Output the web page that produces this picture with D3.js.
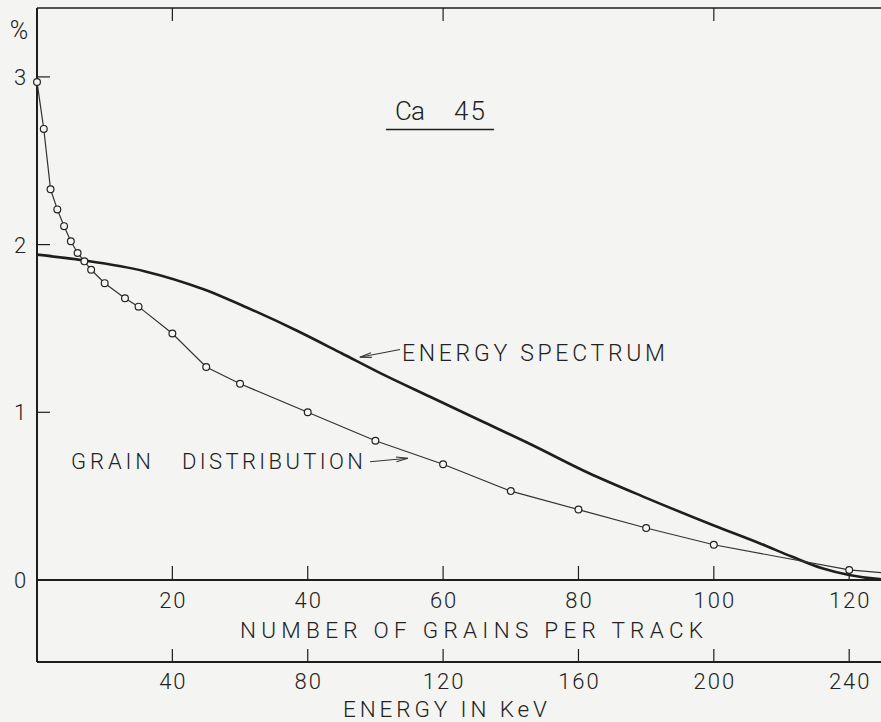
<!DOCTYPE html>
<html>
<head>
<meta charset="utf-8">
<script src="https://cdn.jsdelivr.net/npm/d3@7"></script>
<style>
  html, body { margin: 0; padding: 0; background: #f4f4f2; }
  svg { display: block; }
  text { font-family: Roboto, "DejaVu Sans", sans-serif; font-weight: 300; fill: #222; }
</style>
</head>
<body>
<svg id="chart" width="881" height="722"></svg>
<script>
// Grain distribution (number of grains per track -> %)
const grainCounts  = [0, 1, 2, 3, 4, 5, 6, 7, 8, 10, 13, 15, 20, 25, 30, 40, 50, 60, 70, 80, 90, 100, 120];
const grainPercent = [2.97, 2.69, 2.33, 2.21, 2.11, 2.02, 1.95, 1.90, 1.85, 1.77, 1.68, 1.63, 1.47, 1.27, 1.17, 1.00, 0.83, 0.69, 0.53, 0.42, 0.31, 0.21, 0.06];
// continuation of the grain curve past the last measured point
const grainTailCount   = [126];
const grainTailPercent = [0.04];

// Beta energy spectrum of Ca 45 (keV -> %)
const spectrumEnergy  = [0, 14, 32, 49, 62, 77, 90, 101, 116, 131, 146, 163, 180, 200, 214, 223, 232, 240, 249, 253];
const spectrumPercent = [1.94, 1.905, 1.84, 1.735, 1.625, 1.485, 1.352, 1.238, 1.094, 0.951, 0.808, 0.638, 0.49, 0.325, 0.215, 0.14, 0.07, 0.03, 0.005, 0];

// Axis ticks
const yTicks      = [0, 1, 2, 3];
const grainTicks  = [20, 40, 60, 80, 100, 120];
const topTicks    = [20, 60, 100];
const energyTicks = [40, 80, 120, 160, 200, 240];

const svg = d3.select("#chart");
const W = 881;
const plotLeft = 37, plotTop = 8, zeroY = 580, lowerY = 662;

const xGrain  = d3.scaleLinear().domain([0, 124.7]).range([plotLeft, W]);
const xEnergy = d3.scaleLinear().domain([0, 249.4]).range([plotLeft, W]);
const y       = d3.scaleLinear().domain([0, 3]).range([zeroY, zeroY - 3 * 167.7]);

const ink = "#1e1e1e";

svg.append("defs").append("clipPath").attr("id", "plot")
  .append("rect").attr("x", plotLeft).attr("y", plotTop)
  .attr("width", W - plotLeft).attr("height", zeroY - plotTop + 3);

// frame: left axis, top border, zero line, lower energy axis
svg.append("line").attr("x1", plotLeft).attr("x2", plotLeft).attr("y1", plotTop).attr("y2", lowerY)
  .attr("stroke", ink).attr("stroke-width", 2);
svg.append("line").attr("x1", plotLeft).attr("x2", W).attr("y1", plotTop).attr("y2", plotTop)
  .attr("stroke", ink).attr("stroke-width", 1.6);
svg.append("line").attr("x1", plotLeft).attr("x2", W).attr("y1", zeroY).attr("y2", zeroY)
  .attr("stroke", ink).attr("stroke-width", 2);
svg.append("line").attr("x1", plotLeft).attr("x2", W).attr("y1", lowerY).attr("y2", lowerY)
  .attr("stroke", ink).attr("stroke-width", 2);

// left ticks and labels
svg.selectAll(".ytick").data(yTicks.filter(d => d > 0)).join("line")
  .attr("x1", plotLeft).attr("x2", plotLeft + 13)
  .attr("y1", d => y(d)).attr("y2", d => y(d))
  .attr("stroke", ink).attr("stroke-width", 1.2);
svg.selectAll(".ylab").data(yTicks).join("text")
  .attr("x", 20).attr("y", d => y(d) + 8)
  .attr("text-anchor", "middle").attr("font-size", 22)
  .text(d => d);
svg.append("text").attr("x", 19).attr("y", 39).attr("text-anchor", "middle")
  .attr("font-size", 25).text("%");

// top border ticks
svg.selectAll(".ttick").data(topTicks).join("line")
  .attr("x1", d => xGrain(d)).attr("x2", d => xGrain(d))
  .attr("y1", plotTop).attr("y2", plotTop + 13)
  .attr("stroke", ink).attr("stroke-width", 1.2);

// grains axis (on zero line)
svg.selectAll(".gtick").data(grainTicks).join("line")
  .attr("x1", d => xGrain(d)).attr("x2", d => xGrain(d))
  .attr("y1", zeroY).attr("y2", zeroY - 14)
  .attr("stroke", ink).attr("stroke-width", 1.2);
svg.selectAll(".glab").data(grainTicks).join("text")
  .attr("x", d => xGrain(d) + 1).attr("y", 608)
  .attr("text-anchor", "middle").attr("font-size", 22)
  .attr("letter-spacing", 2)
  .text(d => d);

// energy axis
svg.selectAll(".etick").data(energyTicks).join("line")
  .attr("x1", d => xEnergy(d)).attr("x2", d => xEnergy(d))
  .attr("y1", lowerY).attr("y2", lowerY - 13)
  .attr("stroke", ink).attr("stroke-width", 1.2);
svg.selectAll(".elab").data(energyTicks).join("text")
  .attr("x", d => xEnergy(d) + 1).attr("y", 689)
  .attr("text-anchor", "middle").attr("font-size", 22)
  .attr("letter-spacing", 2)
  .text(d => d);

// axis titles
svg.append("text").attr("x", 240).attr("y", 637.5).attr("font-size", 22.5)
  .attr("textLength", 463).attr("lengthAdjust", "spacing")
  .text("NUMBER OF GRAINS PER TRACK");
svg.append("text").attr("x", 343).attr("y", 717).attr("font-size", 22.5)
  .attr("textLength", 204).attr("lengthAdjust", "spacing")
  .text("ENERGY IN KeV");

// title
svg.append("text").attr("x", 395).attr("y", 120).attr("font-size", 26)
  .attr("textLength", 30).attr("lengthAdjust", "spacing").text("Ca");
svg.append("text").attr("x", 454).attr("y", 120).attr("font-size", 26)
  .attr("textLength", 31).attr("lengthAdjust", "spacing").text("45");
svg.append("line").attr("x1", 386).attr("x2", 494).attr("y1", 129.5).attr("y2", 129.5)
  .attr("stroke", ink).attr("stroke-width", 1.6);

const plot = svg.append("g").attr("clip-path", "url(#plot)");

// energy spectrum curve
const spectrum = spectrumEnergy.map((e, i) => [e, spectrumPercent[i]]);
plot.append("path").datum(spectrum)
  .attr("fill", "none").attr("stroke", ink).attr("stroke-width", 2.6)
  .attr("d", d3.line().x(d => xEnergy(d[0])).y(d => y(d[1])).curve(d3.curveMonotoneX));

// grain distribution curve with circled points
const grains = grainCounts.map((g, i) => [g, grainPercent[i]]);
const grainLine = grains.concat(grainTailCount.map((g, i) => [g, grainTailPercent[i]]));
plot.append("path").datum(grainLine)
  .attr("fill", "none").attr("stroke", "#333").attr("stroke-width", 1.2)
  .attr("d", d3.line().x(d => xGrain(d[0])).y(d => y(d[1])));
svg.selectAll(".pt").data(grains).join("circle")
  .attr("cx", d => xGrain(d[0])).attr("cy", d => y(d[1])).attr("r", 3.4)
  .attr("fill", "#f7f7f5").attr("stroke", "#222").attr("stroke-width", 1.2);

// labels with arrows
function arrow(x1, y1, x2, y2) {
  const g = svg.append("g").attr("stroke", "#333").attr("stroke-width", 1.1).attr("fill", "none");
  g.append("line").attr("x1", x1).attr("y1", y1).attr("x2", x2).attr("y2", y2);
  const a = Math.atan2(y2 - y1, x2 - x1), len = 12, spread = 0.2;
  g.append("path").attr("d",
    `M${x2 - len * Math.cos(a - spread)},${y2 - len * Math.sin(a - spread)}` +
    `L${x2},${y2}` +
    `L${x2 - len * Math.cos(a + spread)},${y2 - len * Math.sin(a + spread)}`);
}
const specTip = [xEnergy(95.4), y(1.328)];
arrow(400, 349.5, specTip[0], specTip[1]);
svg.append("text").attr("x", 402).attr("y", 361).attr("font-size", 23)
  .attr("textLength", 263).attr("lengthAdjust", "spacing").text("ENERGY SPECTRUM");

const grainTip = [xGrain(54.8), y(0.726)];
arrow(370, 461.7, grainTip[0], grainTip[1]);
svg.append("text").attr("x", 71).attr("y", 468.5).attr("font-size", 22)
  .attr("textLength", 80).attr("lengthAdjust", "spacing").text("GRAIN");
svg.append("text").attr("x", 182).attr("y", 468.5).attr("font-size", 22)
  .attr("textLength", 181).attr("lengthAdjust", "spacing").text("DISTRIBUTION");
</script>
</body>
</html>
